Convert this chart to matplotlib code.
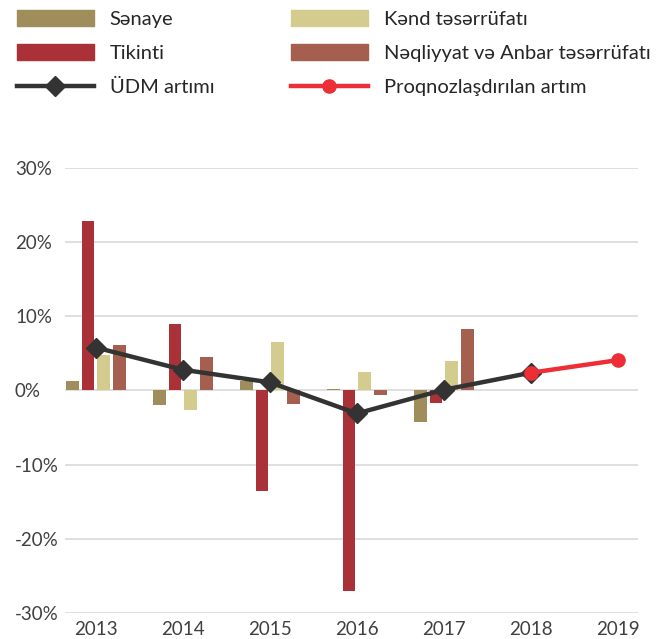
import numpy as np
import matplotlib
matplotlib.use("Agg")
import matplotlib.pyplot as plt
from matplotlib.patches import Patch
from matplotlib.lines import Line2D
from matplotlib.ticker import FuncFormatter

# values (percent growth)
years = ["2013", "2014", "2015", "2016", "2017", "2018", "2019"]
bar_years = ["2013", "2014", "2015", "2016", "2017"]
senaye = [1.3, -1.9, 1.3, 0.2, -4.3]
tikinti = [22.9, 9.0, -13.6, -27.1, -1.7]
kend = [4.8, -2.7, 6.5, 2.5, 4.0]
neqliyyat = [6.2, 4.5, -1.8, -0.6, 8.3]
udm = [5.8, 2.8, 1.1, -3.1, 0.1, 2.4]
forecast_years = ["2018", "2019"]
forecast = [2.4, 4.1]

series_names = ["Sənaye", "Tikinti", "Kənd təsərrüfatı", "Nəqliyyat və Anbar təsərrüfatı"]
colors = ["#A08D5C", "#AA3137", "#D4CC8F", "#A55F4E"]

plt.rcParams["font.family"] = ["Lato", "DejaVu Sans"]

W, H = 659, 639
fig = plt.figure(figsize=(W / 100, H / 100), dpi=100)
ax = fig.add_axes([0.0986, 0.0412, 0.8694, 0.6954])

x = np.arange(len(bar_years))
step = 0.18
width = 0.145
for i, (vals, col) in enumerate(zip([senaye, tikinti, kend, neqliyyat], colors)):
    ax.bar(x + (i - 1.5) * step, vals, width, color=col, zorder=2)

ax.plot(np.arange(len(udm)), udm, color="#333333", lw=3.2, marker="D",
        markersize=10, zorder=3)
fx = [years.index(y) for y in forecast_years]
ax.plot(fx, forecast, color="#EE2E36", lw=3.2, marker="o", markersize=9.5,
        zorder=4)

ax.set_ylim(-30, 30)
ax.set_yticks(np.arange(-30, 31, 10))
ax.yaxis.set_major_formatter(FuncFormatter(lambda v, _: f"{v:.0f}%"))
ax.set_xlim(-0.356, 6.23)
ax.set_xticks(np.arange(len(years)))
ax.set_xticklabels(years)
ax.tick_params(length=0, labelsize=13.5, labelcolor="#404040")
ax.tick_params(axis="x", pad=6)
for lbl in ax.get_yticklabels():
    lbl.set_horizontalalignment("left")
ax.yaxis.set_tick_params(pad=36)
ax.grid(axis="y", color="#D9D9D9", lw=1.2, zorder=0)
ax.set_axisbelow(True)
for s in ax.spines.values():
    s.set_visible(False)

leg_kw = dict(loc="upper left", frameon=False, fontsize=14.5,
              handlelength=3.8, handleheight=0.85, handletextpad=0.8,
              labelspacing=0.8, borderpad=0, borderaxespad=0,
              labelcolor="#262626")
h1 = [Patch(color=colors[0]), Patch(color=colors[1]),
      Line2D([], [], color="#333333", lw=3.2, marker="D", markersize=10)]
l1 = [series_names[0], series_names[1], "ÜDM artımı"]
h2 = [Patch(color=colors[2]), Patch(color=colors[3]),
      Line2D([], [], color="#EE2E36", lw=3.2, marker="o", markersize=9.5)]
l2 = [series_names[2], series_names[3], "Proqnozlaşdırılan artım"]
fig.legend(h1, l1, bbox_to_anchor=(17 / W, 1 - 10 / H), **leg_kw)
fig.legend(h2, l2, bbox_to_anchor=(291 / W, 1 - 10 / H), **leg_kw)

fig.savefig("out.png", dpi=100)
